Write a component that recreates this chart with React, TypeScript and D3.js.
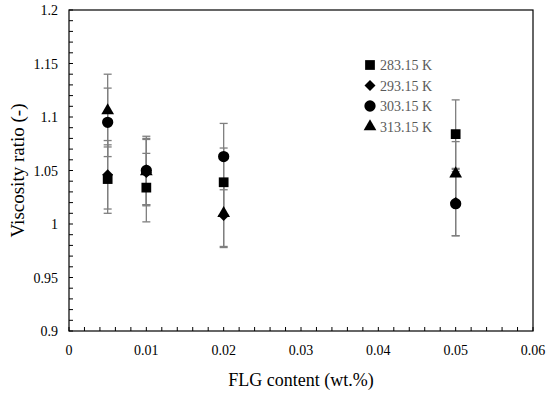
import React, { useEffect, useRef } from "react";
import * as d3 from "d3";

const contents = [0.005, 0.01, 0.02, 0.05];
const seriesNames = ["283.15 K", "293.15 K", "303.15 K", "313.15 K"];
const ratio283 = [1.042, 1.034, 1.039, 1.084];
const err283 = [0.032, 0.032, 0.032, 0.032];
const ratio293 = [1.046, 1.048, 1.008, 1.02];
const err293 = [0.032, 0.031, 0.03, 0.031];
const ratio303 = [1.095, 1.05, 1.063, 1.019];
const err303 = [0.032, 0.032, 0.031, 0.03];
const ratio313 = [1.106, 1.049, 1.01, 1.047];
const err313 = [0.034, 0.031, 0.031, 0.03];
const xTicks = [0, 0.01, 0.02, 0.03, 0.04, 0.05, 0.06];
const yTicks = [0.9, 0.95, 1, 1.05, 1.1, 1.15, 1.2];

const App = () => {
  const svgRef = useRef<SVGSVGElement>(null);

  useEffect(() => {
    const width = 550;
    const height = 393;
    const margin = { top: 10, right: 17, bottom: 62, left: 69 };
    const font = "'Liberation Serif', 'Times New Roman', serif";

    const svg = d3.select(svgRef.current);
    svg.selectAll("*").remove();
    svg.attr("width", width).attr("height", height);

    const x = d3.scaleLinear().domain([0, 0.06]).range([margin.left, width - margin.right]);
    const y = d3.scaleLinear().domain([0.9, 1.2]).range([height - margin.bottom, margin.top]);

    const series = [
      { name: seriesNames[0], values: ratio283, errs: err283, shape: "square" },
      { name: seriesNames[1], values: ratio293, errs: err293, shape: "diamond" },
      { name: seriesNames[2], values: ratio303, errs: err303, shape: "circle" },
      { name: seriesNames[3], values: ratio313, errs: err313, shape: "triangle" },
    ];

    const symbolPath = (shape: string) => {
      if (shape === "square") return d3.symbol(d3.symbolSquare, 95)();
      if (shape === "diamond") return d3.symbol(d3.symbolSquare, 60)();
      if (shape === "circle") return d3.symbol(d3.symbolCircle, 100)();
      return d3.symbol(d3.symbolTriangle, 70)();
    };
    const symbolRotate = (shape: string) => (shape === "diamond" ? " rotate(45)" : "");

    // frame
    svg
      .append("rect")
      .attr("x", margin.left)
      .attr("y", margin.top)
      .attr("width", width - margin.left - margin.right)
      .attr("height", height - margin.top - margin.bottom)
      .attr("fill", "none")
      .attr("stroke", "#000")
      .attr("stroke-width", 1.2);

    // minor ticks (inward)
    const xMinor = d3.range(0, 0.0601, 0.002);
    svg
      .append("g")
      .selectAll("line")
      .data(xMinor)
      .enter()
      .append("line")
      .attr("x1", (d) => x(d))
      .attr("x2", (d) => x(d))
      .attr("y1", y(0.9))
      .attr("y2", y(0.9) - 4)
      .attr("stroke", "#000");

    const yMinor = d3.range(0.9, 1.2001, 0.01);
    svg
      .append("g")
      .selectAll("line")
      .data(yMinor)
      .enter()
      .append("line")
      .attr("x1", x(0))
      .attr("x2", x(0) + 4)
      .attr("y1", (d) => y(d))
      .attr("y2", (d) => y(d))
      .attr("stroke", "#000");

    // tick labels
    svg
      .append("g")
      .selectAll("text")
      .data(xTicks)
      .enter()
      .append("text")
      .attr("x", (d) => x(d))
      .attr("y", height - margin.bottom + 24)
      .attr("text-anchor", "middle")
      .style("font-family", font)
      .style("font-size", "14px")
      .text((d) => String(d));

    svg
      .append("g")
      .selectAll("text")
      .data(yTicks)
      .enter()
      .append("text")
      .attr("x", margin.left - 11)
      .attr("y", (d) => y(d) + 5)
      .attr("text-anchor", "end")
      .style("font-family", font)
      .style("font-size", "14px")
      .text((d) => String(d));

    // axis titles
    svg
      .append("text")
      .attr("x", (margin.left + width - margin.right) / 2)
      .attr("y", height - 7)
      .attr("text-anchor", "middle")
      .style("font-family", font)
      .style("font-size", "18px")
      .text("FLG content (wt.%)");

    svg
      .append("text")
      .attr("transform", `translate(24,${(margin.top + height - margin.bottom) / 2}) rotate(-90)`)
      .attr("text-anchor", "middle")
      .style("font-family", font)
      .style("font-size", "19px")
      .text("Viscosity ratio (-)");

    // error bars
    const errG = svg.append("g");
    series.forEach((s) => {
      s.values.forEach((v, i) => {
        const cx = x(contents[i]);
        const lo = y(v - s.errs[i]);
        const hi = y(v + s.errs[i]);
        errG
          .append("line")
          .attr("x1", cx)
          .attr("x2", cx)
          .attr("y1", lo)
          .attr("y2", hi)
          .attr("stroke", "#7f7f7f")
          .attr("stroke-width", 1.3);
        [lo, hi].forEach((yy) => {
          errG
            .append("line")
            .attr("x1", cx - 4)
            .attr("x2", cx + 4)
            .attr("y1", yy)
            .attr("y2", yy)
            .attr("stroke", "#7f7f7f")
            .attr("stroke-width", 1.3);
        });
      });
    });

    // markers
    series.forEach((s) => {
      svg
        .append("g")
        .selectAll("path")
        .data(s.values)
        .enter()
        .append("path")
        .attr("d", symbolPath(s.shape))
        .attr("transform", (d, i) => `translate(${x(contents[i])},${y(d)})${symbolRotate(s.shape)}`)
        .attr("fill", "#000");
    });

    // legend
    const legend = svg.append("g").attr("transform", "translate(370,65)");
    series.forEach((s, i) => {
      legend
        .append("path")
        .attr("d", symbolPath(s.shape))
        .attr("transform", `translate(0,${i * 20.5})${symbolRotate(s.shape)}`)
        .attr("fill", "#000");
      legend
        .append("text")
        .attr("x", 10)
        .attr("y", i * 20.5 + 5)
        .style("font-family", font)
        .style("font-size", "14px")
        .attr("fill", "#595959")
        .text(s.name);
    });
  }, []);

  return (
    <div>
      <svg ref={svgRef} style={{ position: "absolute", left: 0, top: 0 }}></svg>
    </div>
  );
};

export default App;
